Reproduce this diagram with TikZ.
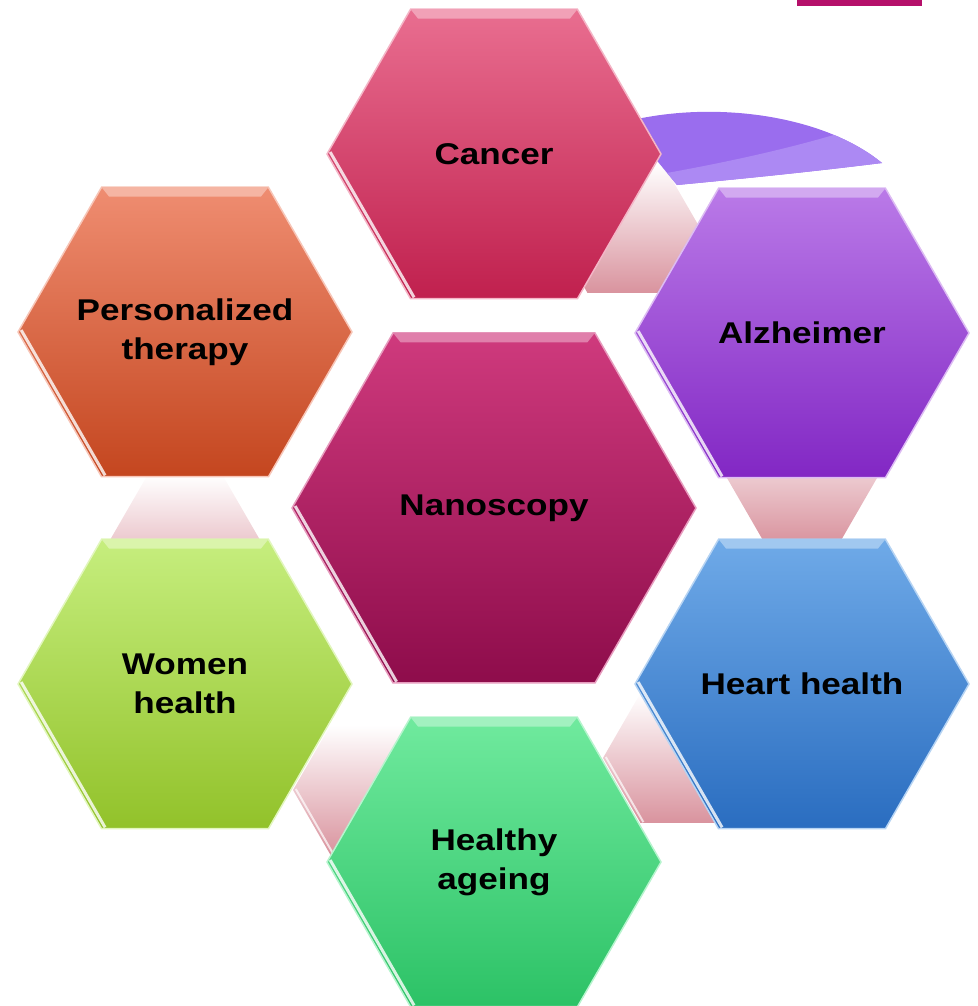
\documentclass[tikz,border=0pt]{standalone}
\usepackage{fontspec}
\setmainfont{Liberation Sans}[FakeStretch=1.17]
\usetikzlibrary{shapes.geometric, calc}

\definecolor{cancerA}{HTML}{E96E90}
\definecolor{cancerB}{HTML}{C0204E}
\definecolor{persA}{HTML}{EF8D71}
\definecolor{persB}{HTML}{C4461F}
\definecolor{alzA}{HTML}{BA7AE8}
\definecolor{alzB}{HTML}{8227C4}
\definecolor{nanoA}{HTML}{CF3A7D}
\definecolor{nanoB}{HTML}{8E0C4B}
\definecolor{womenA}{HTML}{C6EE7E}
\definecolor{womenB}{HTML}{92C22A}
\definecolor{heartA}{HTML}{6FAAE8}
\definecolor{heartB}{HTML}{2A6DC0}
\definecolor{ageA}{HTML}{70EA9E}
\definecolor{ageB}{HTML}{2CC266}
\definecolor{linkpink}{HTML}{D9939E}
\definecolor{arcdark}{HTML}{9A6DEE}
\definecolor{arclight}{HTML}{AC89F3}
\definecolor{barmag}{HTML}{B5106A}

% light rim on top and white glint on the lower left side
\newcommand{\bevel}[2]{
	\fill[#2!65!white] (#1.corner 2) -- (#1.corner 1) -- ($(#1.corner 1)+(-8,10)$) -- ($(#1.corner 2)+(8,10)$) -- cycle;
	\draw[white, line width=3pt, opacity=0.8] ($(#1.corner 3)+(4,-2)$) -- ($(#1.corner 4)+(4,-2)$);
}
\newcommand{\glint}[1]{
	\draw[white, line width=2pt, opacity=0.7] ($(#1.corner 3)+(3,-1)$) -- ($(#1.corner 4)+(3,-1)$);
}

\begin{document}
\begin{tikzpicture} [
	x=1pt, y=-1pt, % pixel grid, y runs down
	hexa/.style={regular polygon, regular polygon sides=6, inner sep=-40pt,
		minimum size=334pt, line width=1.5pt, draw=#1A!50!white,
		top color=#1A, bottom color=#1B, align=center, text=black,
		font=\fontsize{30}{39}\selectfont\bfseries}, % the big coloured cells
	link/.style={regular polygon, regular polygon sides=6, inner sep=0pt,
		minimum size=150pt, top color=white, bottom color=linkpink}, % faint joints
	]
	\useasboundingbox (0,0) rectangle (977,1006);

	% joints between neighbouring cells
	\node[link] (l1) at (625,228) {};
	\node[link] (l2) at (802,478) {};
	\node[link] (l3) at (678,758) {};
	\node[link] (l4) at (368,790) {};
	\node[link] (l5) at (185,540) {};
	\glint{l3}
	\glint{l4}

	% arc behind the top cell
	\path[fill=arcdark] (610,126) .. controls (700,98) and (820,112) .. (882,163)
		.. controls (810,172) and (740,179) .. (677,185) -- (640,140) -- cycle;
	\begin{scope}
		\clip (610,126) .. controls (700,98) and (820,112) .. (882,163)
			.. controls (810,172) and (740,179) .. (677,185) -- (640,140) -- cycle;
		\fill[arclight] (650,176) .. controls (730,162) and (790,148) .. (837,134)
			-- (900,120) -- (900,200) -- (650,200) -- cycle;
	\end{scope}

	\fill[barmag] (797,0) rectangle (922,6);

	\node[hexa=cancer] (cancer) at (494,154) {Cancer};
	\node[hexa=pers] (pers) at (185,332) {Personalized\\therapy};
	\node[hexa=alz] (alz) at (802,333) {Alzheimer};
	\node[hexa=nano, minimum size=404pt] (nano) at (494,508) {Nanoscopy};
	\node[hexa=women] (women) at (185,684) {Women\\health};
	\node[hexa=heart] (heart) at (802,684) {Heart health};
	\node[hexa=age] (age) at (494,862) {Healthy\\ageing};

	\bevel{cancer}{cancerA}
	\bevel{pers}{persA}
	\bevel{alz}{alzA}
	\bevel{nano}{nanoA}
	\bevel{women}{womenA}
	\bevel{heart}{heartA}
	\bevel{age}{ageA}
\end{tikzpicture}
\end{document}
